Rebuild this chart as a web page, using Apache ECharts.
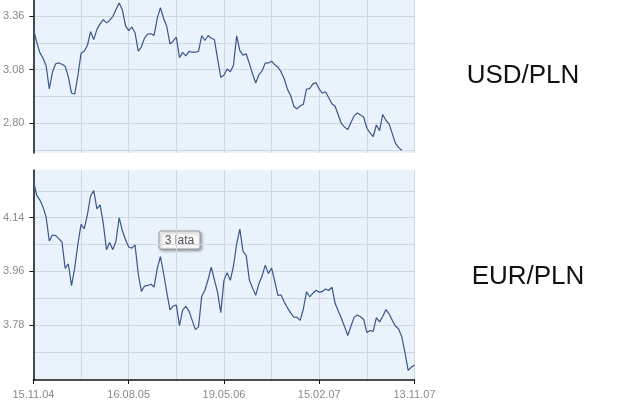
<!DOCTYPE html>
<html><head><meta charset="utf-8">
<script src="https://cdn.jsdelivr.net/npm/echarts@6/dist/echarts.min.js"></script>
<style>html,body{margin:0;padding:0;background:#fff}#c{width:640px;height:400px}</style>
</head><body><div id="c"></div>
<script>
const tickLabels = ['15.11.04', '16.08.05', '19.05.06', '15.02.07', '13.11.07'];
const seriesNames = ['USD/PLN', 'EUR/PLN'];
const badgeText = '3 lata';

const usdPln = [
  3.296, 3.225, 3.170, 3.141, 3.100, 2.979, 3.067, 3.111, 3.115, 3.108,
  3.098, 3.042, 2.958, 2.953, 3.048, 3.165, 3.176, 3.206, 3.278, 3.237,
  3.290, 3.319, 3.341, 3.324, 3.337, 3.357, 3.394, 3.428, 3.392, 3.310,
  3.284, 3.303, 3.273, 3.177, 3.198, 3.246, 3.266, 3.267, 3.259, 3.349,
  3.404, 3.347, 3.305, 3.214, 3.229, 3.250, 3.142, 3.170, 3.152, 3.175,
  3.171, 3.171, 3.175, 3.257, 3.232, 3.258, 3.244, 3.237, 3.136, 3.040,
  3.051, 3.083, 3.069, 3.103, 3.256, 3.179, 3.156, 3.162, 3.112, 3.058,
  3.010, 3.053, 3.074, 3.114, 3.115, 3.124, 3.105, 3.093, 3.068, 3.031,
  2.977, 2.945, 2.889, 2.875, 2.890, 2.899, 2.979, 2.981, 3.006, 3.012,
  2.978, 2.957, 2.965, 2.933, 2.902, 2.889, 2.843, 2.798, 2.780, 2.768,
  2.804, 2.839, 2.854, 2.843, 2.833, 2.774, 2.750, 2.731, 2.791, 2.762,
  2.846, 2.816, 2.797, 2.746, 2.695, 2.673, 2.659
];

const eurPln = [
  4.267, 4.216, 4.200, 4.177, 4.142, 4.062, 4.082, 4.080, 4.070, 4.058,
  3.970, 3.985, 3.912, 3.972, 4.051, 4.118, 4.103, 4.150, 4.213, 4.231,
  4.170, 4.183, 4.121, 4.033, 4.057, 4.033, 4.061, 4.140, 4.097, 4.066,
  4.042, 4.038, 4.049, 3.953, 3.893, 3.911, 3.913, 3.917, 3.908, 3.970,
  4.010, 3.953, 3.890, 3.831, 3.844, 3.847, 3.778, 3.830, 3.843, 3.827,
  3.796, 3.765, 3.774, 3.877, 3.897, 3.932, 3.974, 3.932, 3.890, 3.822,
  3.930, 3.956, 3.930, 3.978, 4.052, 4.102, 4.027, 4.014, 3.931, 3.904,
  3.880, 3.919, 3.944, 3.981, 3.953, 3.971, 3.927, 3.880, 3.881, 3.857,
  3.838, 3.821, 3.807, 3.806, 3.796, 3.834, 3.892, 3.875, 3.887, 3.897,
  3.890, 3.893, 3.901, 3.896, 3.907, 3.853, 3.827, 3.802, 3.774, 3.745,
  3.777, 3.806, 3.814, 3.808, 3.799, 3.755, 3.762, 3.759, 3.805, 3.791,
  3.809, 3.832, 3.818, 3.796, 3.777, 3.767, 3.741, 3.688, 3.628, 3.639,
  3.646
];

const usdLabelTicks = [2.80, 3.08, 3.36];
const usdGridTicks = [2.66, 2.80, 2.94, 3.08, 3.22, 3.36];
const eurLabelTicks = [3.78, 3.96, 4.14];
const eurGridTicks = [3.69, 3.78, 3.87, 3.96, 4.05, 4.14, 4.23];

const POINTS_PER_LABEL = 30;
const POINTS_PER_GRID = 15;
const categories = eurPln.map((_, i) =>
  i % POINTS_PER_LABEL === 0 ? tickLabels[i / POINTS_PER_LABEL] : String(i));

const gridColor = '#cfd7e1';
const axisColor = '#151515';
const lineColor = '#3b5688';
const labelColor = '#8a8a8a';
const font = 'Liberation Sans';

function xAxisFor(gridIndex, withAxis) {
  return {
    type: 'category', gridIndex, data: categories, boundaryGap: false,
    axisLine: { show: withAxis, onZero: false, lineStyle: { color: axisColor, width: 1.5 } },
    axisTick: { show: withAxis, interval: (i) => i % POINTS_PER_LABEL === 0, length: 4, lineStyle: { color: axisColor, width: 1 } },
    axisLabel: { show: withAxis, interval: (i) => i % POINTS_PER_LABEL === 0, color: labelColor, fontSize: 11, fontFamily: font, margin: 9 },
    splitLine: { show: true, interval: (i) => i % POINTS_PER_GRID === 0, lineStyle: { color: gridColor, width: 1 } }
  };
}
function yAxesFor(gridIndex, min, max, labelTicks, gridTicks) {
  return [
    {
      type: 'value', gridIndex, min, max, position: 'left',
      axisLine: { show: true, lineStyle: { color: axisColor, width: 1.5 } },
      axisTick: { show: true, customValues: labelTicks, length: 4, lineStyle: { color: axisColor, width: 1 } },
      axisLabel: { customValues: labelTicks, formatter: (v) => v.toFixed(2), color: labelColor, fontSize: 11, fontFamily: font, margin: 9 },
      splitLine: { show: false }
    },
    {
      type: 'value', gridIndex, min, max, position: 'left', offset: 0,
      axisLine: { show: false }, axisLabel: { show: false },
      axisTick: { show: false, customValues: gridTicks },
      splitLine: { show: true, customValues: gridTicks, lineStyle: { color: gridColor, width: 1 } }
    }
  ];
}

const chart = echarts.init(document.getElementById('c'), null, { renderer: 'canvas' });
chart.setOption({
  animation: false,
  backgroundColor: '#ffffff',
  grid: [
    { left: 32, top: 0, width: 382.5, height: 153, show: true, backgroundColor: '#eaf2fb', borderWidth: 0 },
    { left: 32, top: 170, width: 382.5, height: 213.3, show: true, backgroundColor: '#eaf2fb', borderWidth: 0 }
  ],
  xAxis: [xAxisFor(0, false), xAxisFor(1, true)],
  yAxis: [
    ...yAxesFor(0, 2.645, 3.4435, usdLabelTicks, usdGridTicks),
    ...yAxesFor(1, 3.596, 4.300, eurLabelTicks, eurGridTicks)
  ],
  series: [
    { name: seriesNames[0], type: 'line', xAxisIndex: 0, yAxisIndex: 0, data: usdPln,
      showSymbol: false, symbol: 'none', lineStyle: { color: lineColor, width: 1.2 }, z: 5 },
    { name: seriesNames[1], type: 'line', xAxisIndex: 1, yAxisIndex: 2, data: eurPln,
      showSymbol: false, symbol: 'none', lineStyle: { color: lineColor, width: 1.2 }, z: 5 }
  ],
  graphic: [
    { type: 'text', x: 523, y: 76, z: 10,
      style: { text: seriesNames[0], font: '26px "Liberation Sans"', fill: '#111', textAlign: 'center', textVerticalAlign: 'middle' } },
    { type: 'text', x: 528, y: 277, z: 10,
      style: { text: seriesNames[1], font: '26px "Liberation Sans"', fill: '#111', textAlign: 'center', textVerticalAlign: 'middle' } },
    { type: 'group', x: 159, y: 231, z: 20, children: [
      { type: 'rect', shape: { x: 0, y: 0, width: 41, height: 18, r: 2 },
        style: { fill: '#f8f8f8', stroke: '#9a9a9a', lineWidth: 1, shadowBlur: 3, shadowOffsetX: 1.5, shadowOffsetY: 1.5, shadowColor: 'rgba(0,0,0,0.35)' } },
      { type: 'text', x: 20.5, y: 9.5,
        style: { text: badgeText, font: '12px "Liberation Sans"', fill: '#555', textAlign: 'center', textVerticalAlign: 'middle' } }
    ] }
  ]
});
</script>
</body></html>
